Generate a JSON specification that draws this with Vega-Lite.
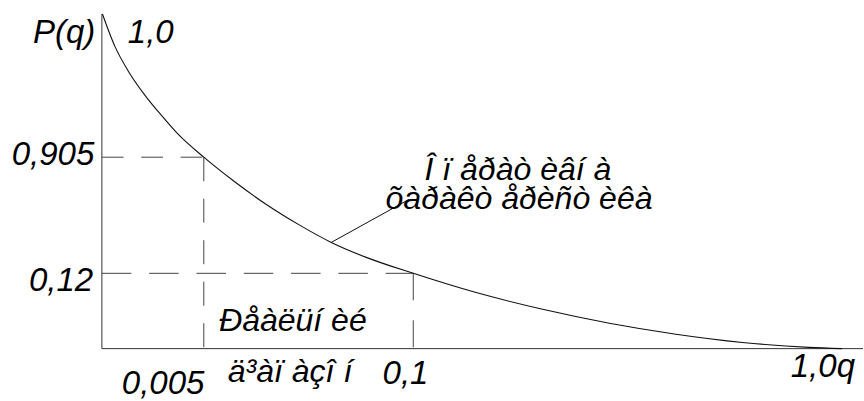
{
  "$schema": "https://vega.github.io/schema/vega-lite/v6.json",
  "width": 864,
  "height": 401,
  "padding": 0,
  "autosize": {"type": "fit", "contains": "padding"},
  "background": "white",
  "config": {"view": {"stroke": null}},
  "datasets": {
    "curve": [
      {"u": 0.07, "v": 100},
      {"u": 1.71, "v": 90.31},
      {"u": 3.45, "v": 82.98},
      {"u": 5.64, "v": 75.77},
      {"u": 7.83, "v": 69.69},
      {"u": 10.01, "v": 64.08},
      {"u": 13.39, "v": 57.2},
      {"u": 17.23, "v": 50.22},
      {"u": 21.61, "v": 43.07},
      {"u": 25.98, "v": 36.9},
      {"u": 30.14, "v": 31.74},
      {"u": 34.74, "v": 27.27},
      {"u": 40.91, "v": 22.5},
      {"u": 49.17, "v": 16.75},
      {"u": 57.91, "v": 11.77},
      {"u": 66.67, "v": 7.6},
      {"u": 75.42, "v": 4.32},
      {"u": 84.16, "v": 1.85},
      {"u": 92.91, "v": 0.36},
      {"u": 97.24, "v": 0}
    ],
    "axes": [
      {"name": "P", "u": 0, "v": 100, "u2": 0, "v2": 0},
      {"name": "q", "u": 0, "v": 0, "u2": 100, "v2": 0}
    ],
    "guides": [
      {"name": "h1", "u": 0, "v": 57.2, "u2": 13.39, "v2": 57.2},
      {"name": "v1", "u": 13.39, "v": 57.2, "u2": 13.39, "v2": 0},
      {"name": "h2", "u": 0, "v": 22.5, "u2": 40.91, "v2": 22.5},
      {"name": "v2", "u": 40.91, "v": 22.5, "u2": 40.91, "v2": 0}
    ],
    "leader": [
      {"u": 30.14, "v": 31.74, "u2": 40.33, "v2": 44.56}
    ],
    "labels": [
      {"kind": "tick", "u": -9.06, "v": 91.27, "text": "P(q)"},
      {"kind": "tick", "u": 3.41, "v": 91.36, "text": "1,0"},
      {"kind": "tick", "u": -11.85, "v": 54.99, "text": "0,905"},
      {"kind": "tick", "u": -9.58, "v": 17.23, "text": "0,12"},
      {"kind": "tick", "u": 2.62, "v": -13.56, "text": "0,005"},
      {"kind": "tick", "u": 36.88, "v": -10.58, "text": "0,1"},
      {"kind": "tick", "u": 90.51, "v": -8.49, "text": "1,0q"},
      {"kind": "note", "u": 15.39, "v": 5.31, "text": "Ðåàëüí èé"},
      {"kind": "note", "u": 16.54, "v": -9.99, "text": "ä³àï àçî í"},
      {"kind": "note", "u": 42.39, "v": 50.52, "text": "Î ï åðàò èâí à"},
      {"kind": "note", "u": 37.27, "v": 41.58, "text": "õàðàêò åðèñò èêà"}
    ]
  },
  "encoding": {
    "x": {"field": "u", "type": "quantitative", "axis": null,
          "scale": {"domain": [-13.386, 100], "nice": false, "zero": false}},
    "y": {"field": "v", "type": "quantitative", "axis": null,
          "scale": {"domain": [-15.35, 104.17], "nice": false, "zero": false}}
  },
  "layer": [
    {
      "data": {"name": "axes"},
      "mark": {"type": "rule", "stroke": "#333333", "strokeWidth": 1},
      "encoding": {"x2": {"field": "u2"}, "y2": {"field": "v2"}}
    },
    {
      "data": {"name": "guides"},
      "transform": [{"filter": "datum.name === 'h1'"}],
      "mark": {"type": "rule", "stroke": "#444444", "strokeWidth": 1, "strokeDash": [21.7, 17.7]},
      "encoding": {"x2": {"field": "u2"}, "y2": {"field": "v2"}}
    },
    {
      "data": {"name": "guides"},
      "transform": [{"filter": "datum.name === 'v1'"}],
      "mark": {"type": "rule", "stroke": "#444444", "strokeWidth": 1, "strokeDash": [24, 17.5]},
      "encoding": {"x2": {"field": "u2"}, "y2": {"field": "v2"}}
    },
    {
      "data": {"name": "guides"},
      "transform": [{"filter": "datum.name === 'h2'"}],
      "mark": {"type": "rule", "stroke": "#444444", "strokeWidth": 1, "strokeDash": [29.5, 17.8]},
      "encoding": {"x2": {"field": "u2"}, "y2": {"field": "v2"}}
    },
    {
      "data": {"name": "guides"},
      "transform": [{"filter": "datum.name === 'v2'"}],
      "mark": {"type": "rule", "stroke": "#444444", "strokeWidth": 1, "strokeDash": [27, 20]},
      "encoding": {"x2": {"field": "u2"}, "y2": {"field": "v2"}}
    },
    {
      "data": {"name": "leader"},
      "mark": {"type": "rule", "stroke": "#111111", "strokeWidth": 1},
      "encoding": {"x2": {"field": "u2"}, "y2": {"field": "v2"}}
    },
    {
      "data": {"name": "curve"},
      "mark": {"type": "line", "interpolate": "monotone", "stroke": "#111111", "strokeWidth": 1.1},
      "encoding": {}
    },
    {
      "data": {"name": "labels"},
      "transform": [{"filter": "datum.kind === 'tick'"}],
      "mark": {"type": "text", "align": "left", "baseline": "alphabetic",
               "font": "Liberation Sans", "fontStyle": "italic", "fontSize": 33, "fill": "black"},
      "encoding": {"text": {"field": "text"}}
    },
    {
      "data": {"name": "labels"},
      "transform": [{"filter": "datum.kind === 'note'"}],
      "mark": {"type": "text", "align": "left", "baseline": "alphabetic",
               "font": "Liberation Sans", "fontStyle": "italic", "fontSize": 32, "fill": "black"},
      "encoding": {"text": {"field": "text"}}
    }
  ]
}
